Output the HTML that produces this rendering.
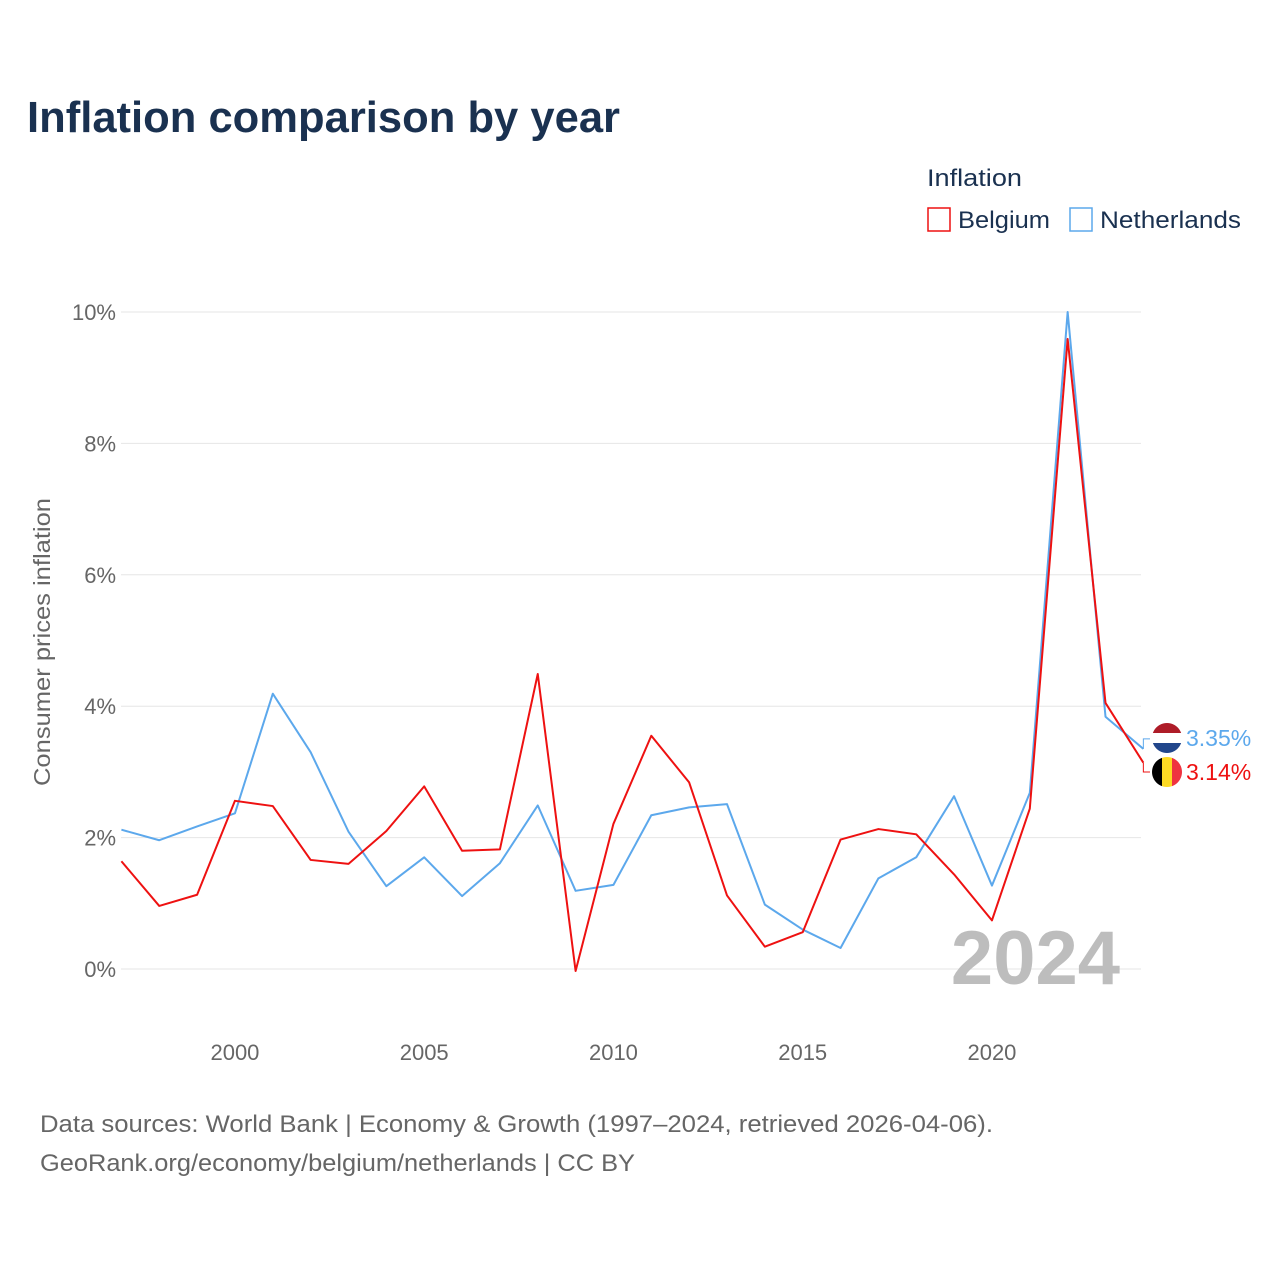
<!DOCTYPE html>
<html><head><meta charset="utf-8"><style>
body{margin:0;background:#fff;font-family:"Liberation Sans",sans-serif}
</style></head><body>
<svg width="1280" height="1280" xmlns="http://www.w3.org/2000/svg" style="font-family:'Liberation Sans',sans-serif">
<text x="27" y="132" font-size="44" font-weight="bold" fill="#1a3150" textLength="593" lengthAdjust="spacingAndGlyphs">Inflation comparison by year</text>
<text x="927" y="186" font-size="24" fill="#1a3150" textLength="95" lengthAdjust="spacingAndGlyphs">Inflation</text>
<g><rect x="928" y="208" width="22" height="23" fill="none" stroke="#ee1111" stroke-width="1.5"/><text x="958" y="228" font-size="24" fill="#1a3150" textLength="92" lengthAdjust="spacingAndGlyphs">Belgium</text></g>
<g><rect x="1070" y="208" width="22" height="23" fill="none" stroke="#5ca8ec" stroke-width="1.5"/><text x="1100" y="228" font-size="24" fill="#1a3150" textLength="141" lengthAdjust="spacingAndGlyphs">Netherlands</text></g>
<g id="grid"></g><g id="xt"></g>
<text transform="translate(50,642) rotate(-90)" text-anchor="middle" font-size="23" fill="#666" textLength="288" lengthAdjust="spacingAndGlyphs">Consumer prices inflation</text>
<text x="1120" y="984" text-anchor="end" font-size="76" font-weight="bold" fill="#bdbdbd">2024</text>
<g id="lines"></g>
<text x="40" y="1132" font-size="24" fill="#666" textLength="953" lengthAdjust="spacingAndGlyphs">Data sources: World Bank | Economy &amp; Growth (1997–2024, retrieved 2026-04-06).</text>
<text x="40" y="1171" font-size="24" fill="#666" textLength="595" lengthAdjust="spacingAndGlyphs">GeoRank.org/economy/belgium/netherlands | CC BY</text>
</svg>
<script>
const years=[];for(let y=1997;y<=2024;y++)years.push(y);
const belgium=[1.64,0.96,1.13,2.56,2.48,1.66,1.60,2.10,2.78,1.80,1.82,4.49,-0.03,2.21,3.55,2.84,1.12,0.34,0.56,1.97,2.13,2.05,1.44,0.74,2.44,9.59,4.05,3.14];
const netherlands=[2.12,1.96,2.17,2.37,4.19,3.30,2.09,1.26,1.70,1.11,1.61,2.49,1.19,1.28,2.34,2.46,2.51,0.98,0.60,0.32,1.38,1.70,2.63,1.27,2.68,10.0,3.84,3.35];
const yTicks=[0,2,4,6,8,10];
const xTicks=[2000,2005,2010,2015,2020];
const NS="http://www.w3.org/2000/svg";
const X=v=>121.4+(v-1997)*37.85, Y=v=>969-v*65.7;
function mk(t,a,p){const e=document.createElementNS(NS,t);for(const k in a)e.setAttribute(k,a[k]);p.appendChild(e);return e;}
const g=document.getElementById('grid');
yTicks.forEach(t=>{
 const l=mk('line',{x1:121,x2:1141,y1:Y(t),y2:Y(t),stroke:'#e6e6e6','stroke-width':1},g);
 
 
 const tx=mk('text',{x:116,y:Y(t)+8,'text-anchor':'end','font-size':22,fill:'#666'},g);tx.textContent=t+'%';
 
 
});
const xt=document.getElementById('xt');
xTicks.forEach(t=>{
 const tx=mk('text',{x:X(t),y:1060,'text-anchor':'middle','font-size':22,fill:'#666'},xt);tx.textContent=t;
 
 
});
const L=document.getElementById('lines');
function line(vals,c,name){
 const p=mk('polyline',{points:vals.map((v,i)=>X(years[i])+','+Y(v)).join(' '),fill:'none',stroke:c,'stroke-width':2,'stroke-linejoin':'round'},L);
 
 
}
line(netherlands,'#5ca8ec','netherlands-line');
line(belgium,'#ee1111','belgium-line');
const nl=netherlands[netherlands.length-1], be=belgium[belgium.length-1];
const ex=X(2024);
const gn=mk('g',{},L);


const ny=738;
mk('polyline',{points:`${ex},${Y(nl)} ${ex},${Y(nl)-10} ${ex+8},${Y(nl)-10}`,fill:'none',stroke:'#5ca8ec','stroke-width':1},gn);
mk('rect',{x:1152,y:ny-15,width:30,height:10,fill:'#ae1c28'},gn);
mk('rect',{x:1152,y:ny-5,width:30,height:10,fill:'#fff'},gn);
mk('rect',{x:1152,y:ny+5,width:30,height:10,fill:'#21468b'},gn);
let t1=mk('text',{x:1186,y:ny+8,'font-size':23,fill:'#5ca8ec'},gn);t1.textContent=nl.toFixed(2)+'%';
const gb=mk('g',{},L);


const by=772;
mk('polyline',{points:`${ex},${Y(be)} ${ex},${by} ${ex+8},${by}`,fill:'none',stroke:'#ee1111','stroke-width':1},gb);
mk('rect',{x:1152,y:by-15,width:10,height:30,fill:'#000'},gb);
mk('rect',{x:1162,y:by-15,width:10,height:30,fill:'#fdda24'},gb);
mk('rect',{x:1172,y:by-15,width:10,height:30,fill:'#ef3340'},gb);
let t2=mk('text',{x:1186,y:by+8,'font-size':23,fill:'#ee1111'},gb);t2.textContent=be.toFixed(2)+'%';
[ny,by].forEach(cy=>{mk('path',{d:`M1150,${cy-17}h34v34h-34z M1167,${cy-15}a15,15 0 1,0 0.01,0z`,fill:'#fff','fill-rule':'evenodd'},L);});
</script>
</body></html>
